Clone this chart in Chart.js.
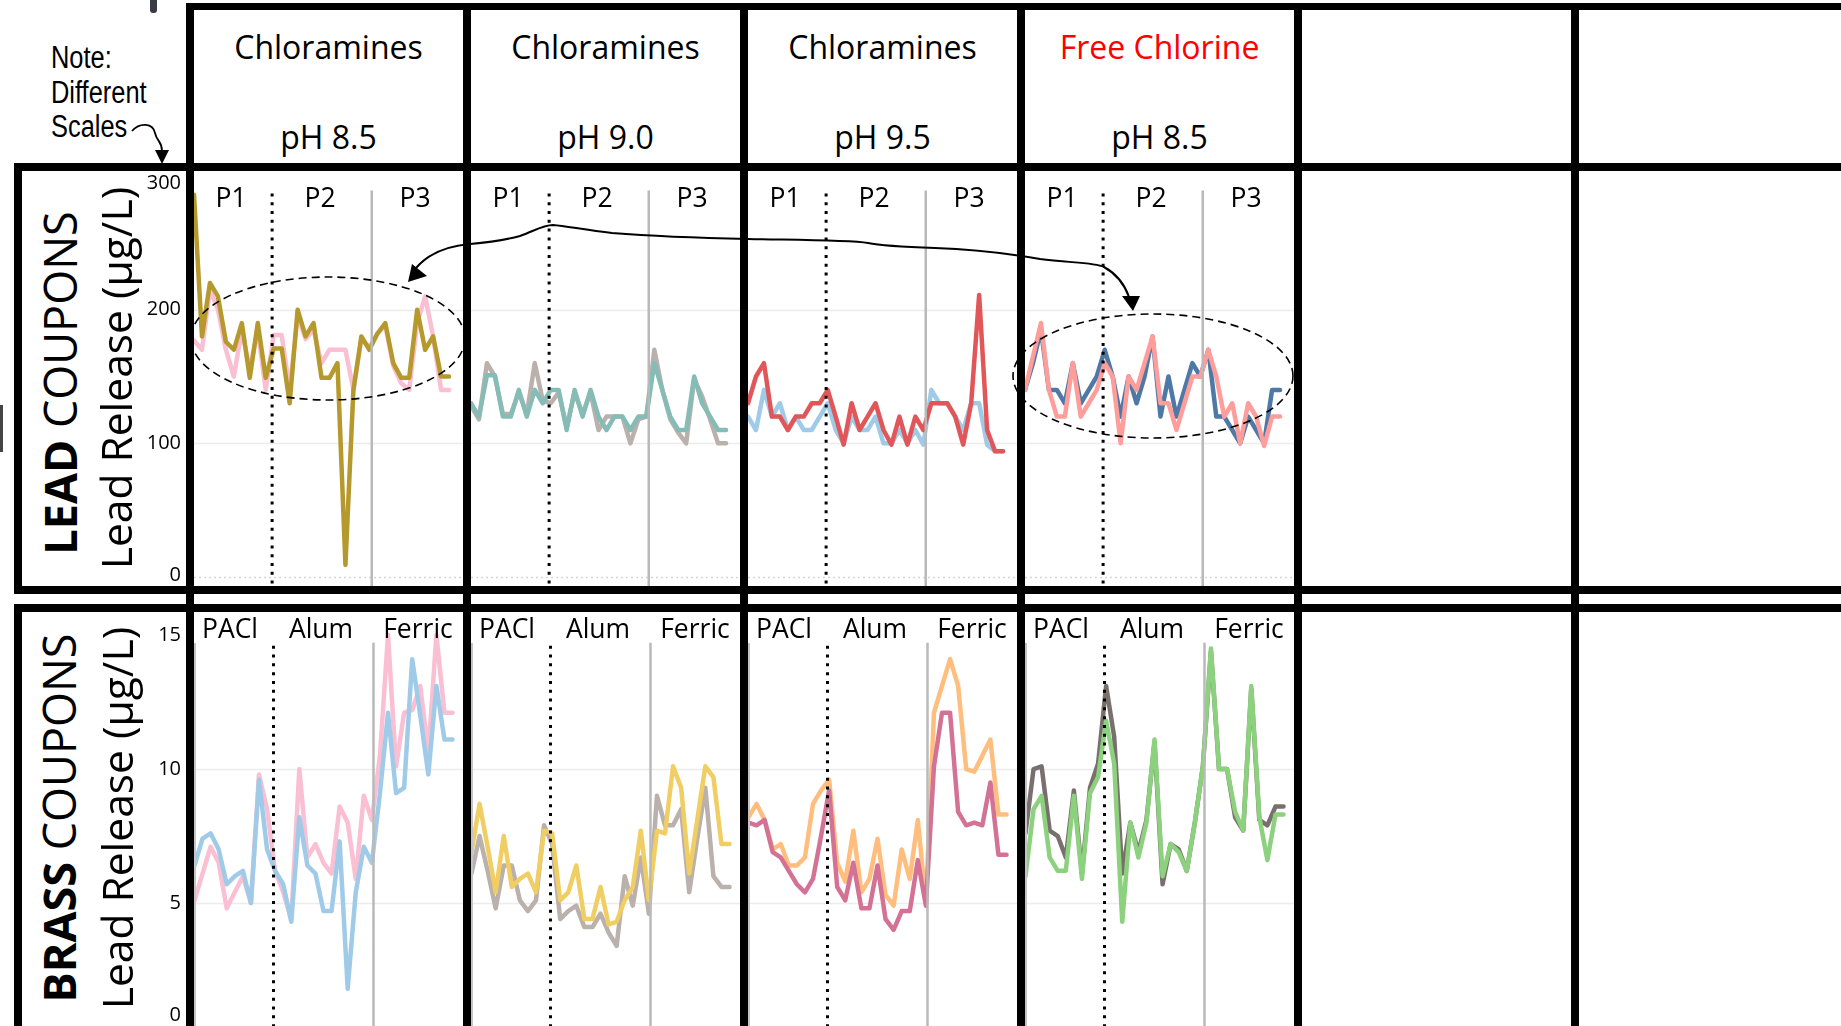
<!DOCTYPE html>
<html>
<head>
<meta charset="utf-8">
<script src="https://cdn.jsdelivr.net/npm/chart.js@4.4.1/dist/chart.umd.min.js"></script>
<style>
  html, body { margin: 0; padding: 0; background: #fff; width: 1841px; height: 1026px; overflow: hidden; }
  #fig { position: relative; width: 1841px; height: 1026px; font-family: "Open Sans", sans-serif; color: #000; }
  .rule { position: absolute; background: #000; }
  .txt { position: absolute; white-space: nowrap; line-height: 1; transform: translate(-50%, -50%); }
  .rot { position: absolute; white-space: nowrap; line-height: 1; transform: translate(-50%, -50%) rotate(-90deg); }
  .note { position: absolute; white-space: nowrap; line-height: 1; font-family: "Liberation Sans", Arial, sans-serif;
          font-size: 31px; transform: scaleX(0.82); transform-origin: 0 0; }
  canvas { position: absolute; }
  svg { position: absolute; left: 0; top: 0; pointer-events: none; }
</style>
</head>
<body>
<div id="fig"></div>
<script>
// ---- column headings ----
const disinfectants = ['Chloramines', 'Chloramines', 'Chloramines', 'Free Chlorine'];
const phLevels = ['pH 8.5', 'pH 9.0', 'pH 9.5', 'pH 8.5'];
const periodNames = ['P1', 'P2', 'P3'];
const coagulantNames = ['PACl', 'Alum', 'Ferric'];

// ---- axis ticks ----
const leadTicks = [0, 100, 200, 300];
const brassTicks = [0, 5, 10, 15];
const leadGrid = [100, 200];
const brassGrid = [5, 10];

// period boundaries, in sample index units
const leadPhaseBreaks = [9.8, 22.3];
const brassPhaseBreaks = [9.8, 22.2];

// ---- lead coupons: lead release (µg/L), 33 samples per condition ----
const leadChlor85A = [286,180,220,210,176,170,190,149,190,149,171,171,130,200,180,190,149,149,160,9,140,180,170,182,190,160,149,149,200,170,180,150,150];
const leadChlor85B = [177,170,215,200,170,150,185,155,185,140,181,181,140,195,178,185,160,170,170,170,140,178,172,182,188,158,145,140,190,210,180,140,140];
const leadChlor90A = [130,120,151,151,120,120,140,120,140,130,140,140,110,140,120,140,120,110,120,120,110,120,120,160,140,120,110,110,150,130,120,110,110];
const leadChlor90B = [128,118,160,150,122,122,138,122,160,132,130,138,112,138,122,138,110,120,120,120,100,118,120,170,140,118,108,100,148,135,118,100,100];
const leadChlor95A = [130,150,160,120,120,110,120,120,130,130,140,120,99,130,110,120,130,110,99,120,99,120,110,130,130,130,120,99,130,211,110,94,94];
const leadChlor95B = [120,110,140,120,130,110,120,110,110,120,130,110,100,120,110,110,120,100,100,110,100,110,99,140,130,130,120,110,130,130,99,94,94];
const leadFree85A  = [140,165,190,140,120,120,160,120,130,140,160,150,100,150,140,160,180,130,130,110,130,150,150,170,150,120,130,100,130,120,98,120,120];
const leadFree85B  = [140,160,185,140,140,130,160,130,140,150,170,150,120,150,130,150,180,120,150,120,140,160,150,170,120,120,110,100,120,110,100,140,140];

// ---- brass coupons: lead release (µg/L) ----
const brassChlor85A = [6.4,7.4,7.6,7.0,5.7,6.0,6.2,5.0,9.6,7.0,6.2,5.7,4.3,8.2,6.4,6.1,4.7,4.7,7.3,1.8,5.4,7.1,6.5,9.1,12.1,9.1,9.3,14.1,12.0,9.8,13.1,11.1,11.1];
const brassChlor85B = [5.1,6.1,7.1,6.5,4.8,5.4,6.0,5.0,9.8,8.5,6.2,5.4,4.4,10.0,6.7,7.2,6.5,6.1,8.6,8.0,5.9,9.0,8.1,10.5,15.0,10.1,12.1,12.2,13.1,10.6,15.0,12.1,12.1];
const brassChlor90A = [6.9,8.7,7.1,5.4,7.5,5.6,5.9,6.1,5.4,7.7,7.6,5.1,5.4,6.4,4.4,4.4,5.6,4.2,4.3,5.1,5.6,7.7,5.1,7.7,7.6,10.1,9.3,6.1,8.1,10.1,9.7,7.2,7.2];
const brassChlor90B = [6.1,7.5,6.2,4.8,6.4,6.4,5.1,4.7,5.1,7.9,7.2,4.4,4.7,4.9,4.1,4.1,4.6,3.9,3.4,6.0,4.9,6.7,4.6,9.0,7.9,7.9,8.5,5.4,7.4,9.3,6.0,5.6,5.6];
const brassChlor95A = [8.0,7.9,8.1,6.9,6.7,6.2,5.7,5.4,5.9,7.5,9.2,5.6,5.1,6.5,4.8,4.8,6.4,4.4,4.0,4.7,4.7,6.6,4.9,10.1,12.1,12.1,8.4,7.9,8.0,7.9,9.5,6.8,6.8];
const brassChlor95B = [8.2,8.7,8.1,7.0,7.2,6.4,6.4,6.7,8.7,9.2,9.6,6.5,5.8,7.7,5.4,5.9,7.4,5.3,4.9,7.0,5.9,8.1,5.0,12.1,13.1,14.1,13.1,10.0,9.9,10.5,11.1,8.3,8.3];
const brassFree85A  = [6.0,8.5,9.0,6.7,6.2,6.2,9.0,5.9,9.1,9.7,11.8,10.2,4.3,8.0,6.7,8.0,11.1,6.0,7.2,6.9,6.2,8.0,10.1,14.5,10.0,10.0,8.4,7.7,13.1,8.2,6.6,8.3,8.3];
const brassFree85B  = [7.6,10.0,10.1,7.7,7.5,6.7,9.2,6.1,9.3,10.2,13.1,11.2,6.1,8.0,6.9,8.1,11.0,5.7,7.2,7.0,6.2,8.0,10.1,14.4,10.0,10.0,8.2,7.7,13.0,8.1,7.9,8.6,8.6];

// series per panel, first entry is drawn on top
const leadPanels = [
  [{ values: leadChlor85A, color: '#b6992d' }, { values: leadChlor85B, color: '#fabfd2' }],
  [{ values: leadChlor90A, color: '#86bcb6' }, { values: leadChlor90B, color: '#bab0ac' }],
  [{ values: leadChlor95A, color: '#e15759' }, { values: leadChlor95B, color: '#a0cbe8' }],
  [{ values: leadFree85A,  color: '#ff9d9a' }, { values: leadFree85B,  color: '#4e79a7' }]
];
const brassPanels = [
  [{ values: brassChlor85A, color: '#a0cbe8' }, { values: brassChlor85B, color: '#fabfd2' }],
  [{ values: brassChlor90A, color: '#f1ce63' }, { values: brassChlor90B, color: '#bab0ac' }],
  [{ values: brassChlor95A, color: '#d37295' }, { values: brassChlor95B, color: '#ffbe7d' }],
  [{ values: brassFree85A,  color: '#8cd17d' }, { values: brassFree85B,  color: '#79706e' }]
];

// ---- page geometry ----
const fig = document.getElementById('fig');
const COLS = [190, 467, 744, 1021, 1298, 1575];   // centre lines of the column rules
const RULE = 8;

const rows = {
  lead:  { top: 170, bottom: 586, yMin: -6.73, yMax: 304.5, xMin: 0, xMax: 33.75,
           ticks: leadTicks, grid: leadGrid, zeroLine: true, breaks: leadPhaseBreaks, dividerTop: 287 },
  brass: { top: 612, bottom: 1026, yMin: 0.41, yMax: 15.86, xMin: -0.06, xMax: 33.3,
           ticks: brassTicks, grid: brassGrid, zeroLine: false, breaks: brassPhaseBreaks, dividerTop: 14.6 }
};

// gridlines, period dividers and the y tick labels of the first column
const panelDecor = {
  id: 'panelDecor',
  beforeDatasetsDraw(chart, args, o) {
    const { ctx, chartArea: a, scales: { y } } = chart;
    ctx.save();
    ctx.lineWidth = 1.3;
    ctx.strokeStyle = '#ececec';
    o.grid.forEach(v => {
      const py = Math.round(y.getPixelForValue(v)) + 0.5;
      ctx.beginPath(); ctx.moveTo(a.left, py); ctx.lineTo(a.right, py); ctx.stroke();
    });
    if (o.zeroLine) {
      const py = Math.round(y.getPixelForValue(0)) + 0.5;
      ctx.strokeStyle = '#d6d6d6';
      ctx.setLineDash([2, 3]);
      ctx.beginPath(); ctx.moveTo(a.left, py); ctx.lineTo(a.right, py); ctx.stroke();
    }
    ctx.restore();
  },
  afterDatasetsDraw(chart, args, o) {
    const { ctx, scales: { x, y } } = chart;
    const top = y.getPixelForValue(o.dividerTop);
    const bottom = chart.height;
    ctx.save();
    // solid grey divider between the second and third period
    const gx = x.getPixelForValue(o.breaks[1]);
    ctx.strokeStyle = '#b9b9b9';
    ctx.lineWidth = 2.5;
    ctx.beginPath(); ctx.moveTo(gx, top - 3); ctx.lineTo(gx, bottom); ctx.stroke();
    // dotted black divider between the first and second period
    const dx = x.getPixelForValue(o.breaks[0]);
    ctx.strokeStyle = '#000';
    ctx.lineWidth = 3;
    ctx.setLineDash([3, 5.8]);
    ctx.beginPath(); ctx.moveTo(dx, top); ctx.lineTo(dx, bottom); ctx.stroke();
    ctx.restore();
  },
  afterDraw(chart, args, o) {
    if (!o.showTicks) return;
    const { ctx, chartArea: a, scales: { y } } = chart;
    ctx.save();
    ctx.font = '20px "Open Sans", sans-serif';
    ctx.fillStyle = '#000';
    ctx.textAlign = 'right';
    ctx.textBaseline = 'middle';
    o.ticks.forEach(v => {
      let py = y.getPixelForValue(v);
      py = Math.min(Math.max(py, 13), chart.height - 11);
      ctx.fillText(String(v), a.left - 13, py);
    });
    ctx.restore();
  }
};

function makePanel(col, row, series) {
  const left = COLS[col] + RULE / 2;
  const right = COLS[col + 1] - RULE / 2;
  const first = col === 0;
  const cvLeft = first ? 120 : left;
  const cv = document.createElement('canvas');
  cv.width = right - cvLeft;
  cv.height = row.bottom - row.top;
  cv.style.left = cvLeft + 'px';
  cv.style.top = row.top + 'px';
  fig.appendChild(cv);
  new Chart(cv, {
    type: 'line',
    data: {
      datasets: series.map(s => ({
        data: s.values.map((v, i) => ({ x: i, y: v })),
        borderColor: s.color,
        borderWidth: 4.5,
        pointRadius: 0,
        tension: 0,
        fill: false,
        borderJoinStyle: 'round',
        borderCapStyle: 'round'
      }))
    },
    options: {
      responsive: false,
      animation: false,
      devicePixelRatio: 1,
      events: [],
      layout: { padding: { left: left - cvLeft, right: 0, top: 0, bottom: 0 } },
      plugins: {
        legend: { display: false },
        tooltip: { enabled: false },
        panelDecor: {
          grid: row.grid, zeroLine: row.zeroLine, breaks: row.breaks,
          dividerTop: row.dividerTop, ticks: row.ticks, showTicks: first
        }
      },
      scales: {
        x: { type: 'linear', display: false, min: row.xMin, max: row.xMax },
        y: { type: 'linear', display: false, min: row.yMin, max: row.yMax }
      }
    },
    plugins: [panelDecor]
  });
}

leadPanels.forEach((s, c) => makePanel(c, rows.lead, s));
brassPanels.forEach((s, c) => makePanel(c, rows.brass, s));

// ---- frame rules ----
function rule(l, t, w, h) {
  const d = document.createElement('div');
  d.className = 'rule';
  d.style.cssText = `left:${l}px;top:${t}px;width:${w}px;height:${h}px;`;
  fig.appendChild(d);
  return d;
}
// thin grey edge inside each brass panel
for (let c = 0; c < 4; c++) {
  const d = rule(COLS[c] + 4, 643, 1.5, 383);
  d.style.background = '#c4c4c4';
}
rule(186, 3, 1841 - 186, 7);          // top of header row
rule(14, 163, 1841 - 14, 8);          // header / lead
rule(14, 586, 1841 - 14, 8);          // bottom of lead row
rule(14, 604, 1841 - 14, 8);          // top of brass row
rule(14, 163, 8, 431);                // lead box left
rule(14, 604, 8, 422);                // brass box left
COLS.forEach(c => rule(c - 4, 3, RULE, 1023));
// small marks at the page edge
const mk1 = rule(150, 0, 7, 13); mk1.style.background = '#3b3b48'; mk1.style.borderRadius = '0 0 3px 3px';
const mk2 = rule(0, 405, 2.5, 47); mk2.style.background = '#444';

// ---- text ----
function text(cls, str, x, y, css) {
  const d = document.createElement('div');
  d.className = cls;
  d.innerHTML = str;
  d.style.left = x + 'px';
  d.style.top = y + 'px';
  if (css) d.style.cssText += css;
  fig.appendChild(d);
  return d;
}
for (let c = 0; c < 4; c++) {
  const mid = (COLS[c] + COLS[c + 1]) / 2;
  const red = disinfectants[c] === 'Free Chlorine';
  text('txt', disinfectants[c], mid, 47, `font-size:32px;color:${red ? '#ff0000' : '#000'};`);
  text('txt', phLevels[c], mid, 137, 'font-size:32px;');
  [41, 130, 225].forEach((off, k) => text('txt', periodNames[k], COLS[c] + off, 197, 'font-size:26.5px;'));
  [40, 131, 228].forEach((off, k) => text('txt', coagulantNames[k], COLS[c] + off, 628, 'font-size:26.5px;'));
}
text('rot', '<b>LEAD</b> COUPONS', 59, 383, 'font-size:45px;');
text('rot', 'Lead Release (µg/L)', 116, 378, 'font-size:42.5px;');
text('rot', '<b>BRASS</b> COUPONS', 58, 818, 'font-size:45px;');
text('rot', 'Lead Release (µg/L)', 117, 818, 'font-size:42.5px;');
text('note', 'Note:', 51, 42);
text('note', 'Different', 51, 77);
text('note', 'Scales', 51, 111);

// ---- annotations ----
const svgNS = 'http://www.w3.org/2000/svg';
const svg = document.createElementNS(svgNS, 'svg');
svg.setAttribute('width', 1841);
svg.setAttribute('height', 1026);
svg.innerHTML = `
  <path d="M132,131 C140,122 153,123 155,133 C157,142 162,141 162,151" stroke="#000" stroke-width="1.8" fill="none"/>
  <polygon points="155,150 169,150 162,164" fill="#000"/>
  <ellipse cx="328" cy="338.5" rx="137" ry="61.5" fill="none" stroke="#000" stroke-width="1.6" stroke-dasharray="8 5"/>
  <ellipse cx="1153" cy="376" rx="140" ry="62" fill="none" stroke="#000" stroke-width="1.6" stroke-dasharray="8 5"/>
  <path d="M416,268 C428,254 447,246 470,244 C492,242 505,240 520,236 C534,231 543,225 553,225 C566,226 585,230 612,233 C650,236 700,238 748,239 C800,240 850,240 868,243 C882,246 905,247 935,248 C985,250 1012,254 1040,259 C1068,263 1094,262 1104,267 C1115,273 1124,283 1129,297" stroke="#000" stroke-width="2" fill="none"/>
  <polygon points="408,282 412,264 427,276" fill="#000"/>
  <polygon points="1122,296 1140,296 1133,311" fill="#000"/>
`;
fig.appendChild(svg);
</script>
</body>
</html>
